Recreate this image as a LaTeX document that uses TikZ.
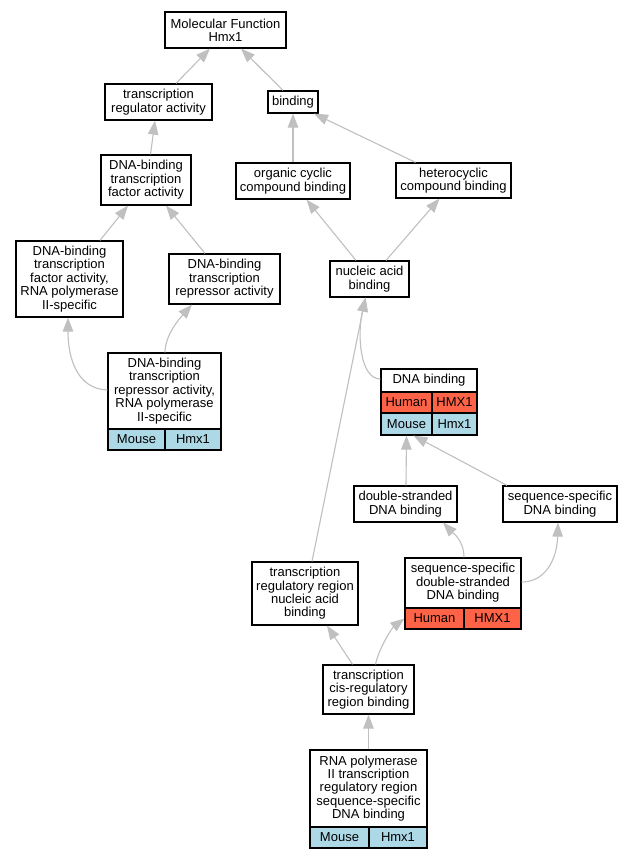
\documentclass[tikz,border=0pt]{standalone}
\usepackage{fontspec}
\setmainfont{Liberation Sans}
\usetikzlibrary{arrows.meta}
\definecolor{humanc}{HTML}{FF6347}
\definecolor{mousec}{HTML}{ADD8E6}
\definecolor{edgec}{HTML}{C0C0C0}
\tikzset{
 box/.style={draw=black, line width=1.2pt, fill=white, inner sep=0pt, align=center, font=\fontsize{13}{13.4}\selectfont},
 human/.style={box, fill=humanc},
 mouse/.style={box, fill=mousec},
 edge/.style={draw=edgec, line width=1.1pt, -{Triangle[length=14pt,width=10.5pt]}},
}
\begin{document}
\begin{tikzpicture}[x=1pt,y=-1pt]
\path[fill=white,use as bounding box] (0,0) rectangle (633,859);
% nodes
\node[box,minimum width=121pt,minimum height=36pt] (mf) at (225.5,30) {Molecular Function\\Hmx1};
\node[box,minimum width=107pt,minimum height=36pt] (tra) at (158.5,102) {transcription\\regulator activity};
\node[box,minimum width=50pt,minimum height=22pt] (bind) at (293,102) {binding};
\node[box,minimum width=90pt,minimum height=50pt] (dbtf) at (146,180) {DNA-binding\\transcription\\factor activity};
\node[box,minimum width=114pt,minimum height=36pt] (occ) at (293,181) {organic cyclic\\compound binding};
\node[box,minimum width=115pt,minimum height=35pt] (hcc) at (453.5,180.5) {heterocyclic\\compound binding};
\node[box,minimum width=107pt,minimum height=76pt] (dbtf2) at (69.5,279) {DNA-binding\\transcription\\factor activity,\\RNA polymerase\\II-specific};
\node[box,minimum width=111pt,minimum height=50pt] (repr) at (224.5,279) {DNA-binding\\transcription\\repressor activity};
\node[box,minimum width=79pt,minimum height=36pt] (nab) at (369.5,279) {nucleic acid\\binding};
\node[box,minimum width=113pt,minimum height=76pt] (repr2) at (164.5,391) {DNA-binding\\transcription\\repressor activity,\\RNA polymerase\\II-specific};
\node[mouse,minimum width=57pt,minimum height=21pt] (repr2m) at (136.5,439.5) {Mouse};
\node[mouse,minimum width=56pt,minimum height=21pt] (repr2g) at (193,439.5) {Hmx1};
\node[box,minimum width=96pt,minimum height=23pt] (dnab) at (429,380.5) {DNA binding};
\node[human,minimum width=51pt,minimum height=21pt] (dnabh) at (406.5,402.5) {Human};
\node[human,minimum width=45pt,minimum height=21pt] (dnabhg) at (454.5,402.5) {HMX1};
\node[mouse,minimum width=51pt,minimum height=22pt] (dnabm) at (406.5,424) {Mouse};
\node[mouse,minimum width=45pt,minimum height=22pt] (dnabmg) at (454.5,424) {Hmx1};
\node[box,minimum width=103pt,minimum height=36pt] (dsdna) at (405.5,504) {double-stranded\\DNA binding};
\node[box,minimum width=114pt,minimum height=36pt] (ssdna) at (560,504) {sequence-specific\\DNA binding};
\node[box,minimum width=116pt,minimum height=50pt] (ssds) at (463,583) {sequence-specific\\double-stranded\\DNA binding};
\node[human,minimum width=59pt,minimum height=21pt] (ssdsh) at (434.5,618.5) {Human};
\node[human,minimum width=57pt,minimum height=21pt] (ssdsg) at (492.5,618.5) {HMX1};
\node[box,minimum width=106pt,minimum height=63pt] (trrnab) at (305,593.5) {transcription\\regulatory region\\nucleic acid\\binding};
\node[box,minimum width=91pt,minimum height=49pt] (tcrb) at (368.5,689.5) {transcription\\cis-regulatory\\region binding};
\node[box,minimum width=117pt,minimum height=77pt] (rnap) at (368.5,788.5) {RNA polymerase\\II transcription\\regulatory region\\sequence-specific\\DNA binding};
\node[mouse,minimum width=59pt,minimum height=21pt] (rnapm) at (339.5,837.5) {Mouse};
\node[mouse,minimum width=58pt,minimum height=21pt] (rnapg) at (398,837.5) {Hmx1};
% edges
\draw[edge] ([xshift=17.5pt]tra.north) -- ([xshift=-15.5pt]mf.south);
\draw[edge] ([xshift=-10pt]bind.north) -- ([xshift=15.5pt]mf.south);
\draw[edge] ([xshift=4.5pt]dbtf.north) -- ([xshift=-3.5pt]tra.south);
\draw[edge] (occ.north) -- (bind.south);
\draw[edge] ([xshift=-38pt]hcc.north) -- ([xshift=21pt]bind.south);
\draw[edge] ([xshift=30.5pt]dbtf2.north) -- ([xshift=-18pt]dbtf.south);
\draw[edge] ([xshift=-19.5pt]repr.north) -- ([xshift=20pt]dbtf.south);
\draw[edge] ([xshift=-13.5pt]nab.north) -- ([xshift=13.5pt]occ.south);
\draw[edge] ([xshift=16.5pt]nab.north) -- ([xshift=-14pt]hcc.south);
\draw[edge] ([yshift=1pt]repr2.west) .. controls (78,389) and (68,360) .. ([xshift=-1.5pt]dbtf2.south);
\draw[edge] ([xshift=0.5pt]repr2.north) .. controls (165,335) and (180,318) .. ([xshift=-32.5pt]repr.south);
\draw[edge] ([yshift=1.5pt]dnab.west) .. controls (360,379) and (357,335) .. ([xshift=-4pt]nab.south);
\draw[edge] ([xshift=7pt]trrnab.north) -- ([xshift=-4pt]nab.south);
\draw[edge] ([xshift=0.5pt]dsdna.north) -- (dnabm.south);
\draw[edge] ([xshift=-53pt]ssdna.north) -- ([xshift=7pt]dnabm.south);
\draw[edge] ([xshift=1pt]ssds.north) .. controls (464,540) and (452,532) .. ([xshift=37.5pt]dsdna.south);
\draw[edge] ([yshift=1pt]ssds.east) .. controls (545,582) and (557,560) .. ([xshift=-2pt]ssdna.south);
\draw[edge] ([xshift=-16pt]tcrb.north) -- ([xshift=22pt]trrnab.south);
\draw[edge] ([xshift=7pt]tcrb.north) .. controls (379,648) and (392,628) .. (ssdsh.west);
\draw[edge] (rnap.north) -- (tcrb.south);
\end{tikzpicture}
\end{document}
